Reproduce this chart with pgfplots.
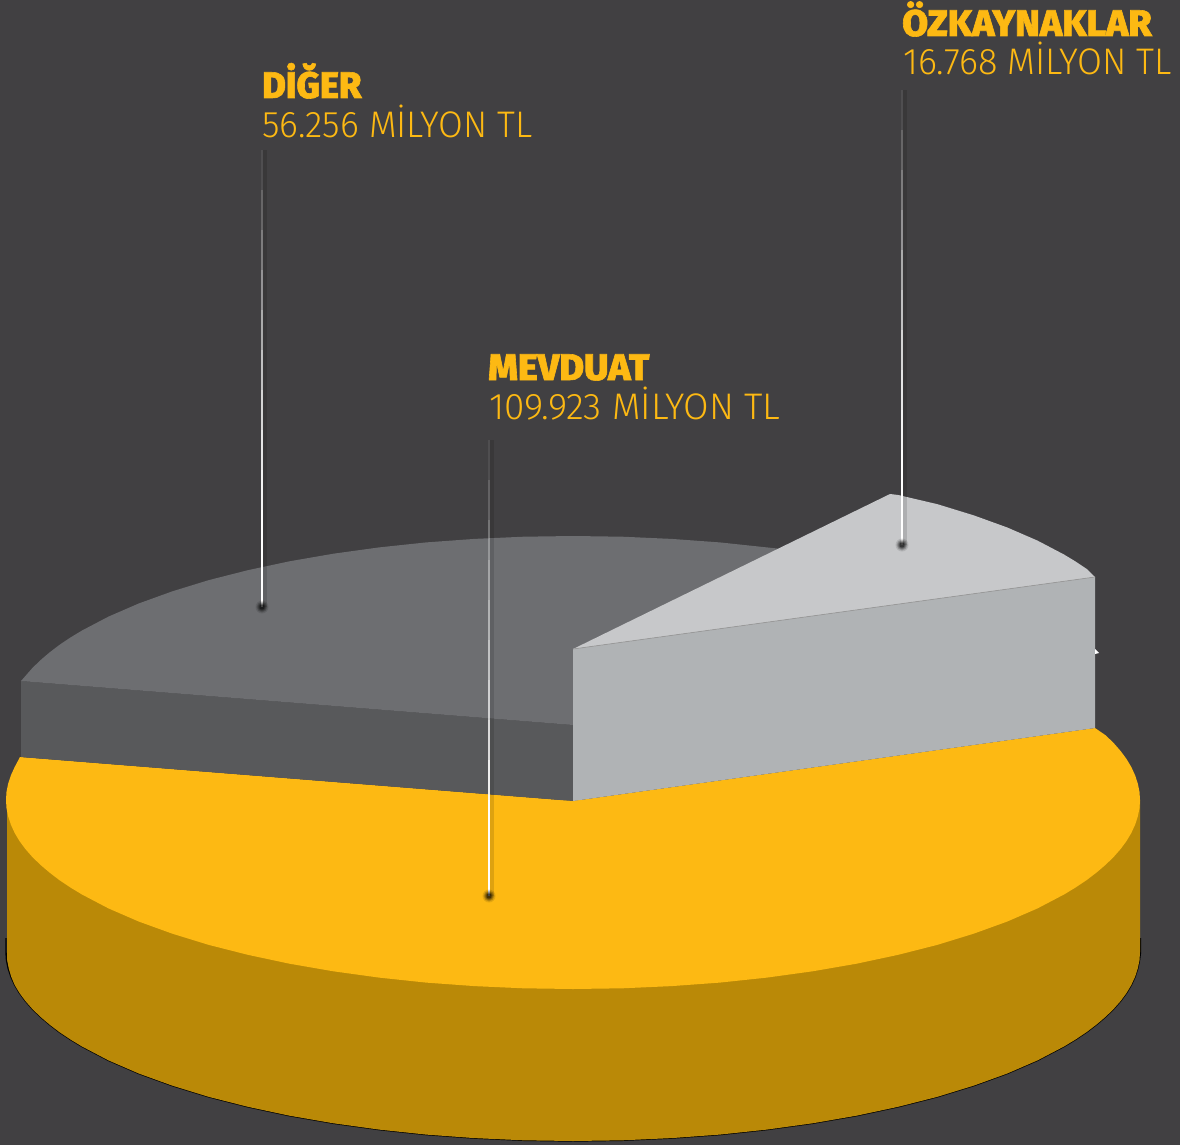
\documentclass[border=0pt]{standalone}
\usepackage{pgfplots}
\pgfplotsset{compat=1.18}
\usepackage{fontspec}
\setmainfont{Fira Sans}
\newfontfamily\hv[FakeBold=1.6]{Fira Sans ExtraBold}
\newfontfamily\lt{Fira Sans Light}
\definecolor{bg}{HTML}{414042}
\definecolor{yel}{HTML}{FDB913}
\definecolor{dyel}{HTML}{BA8907}
\definecolor{gtop}{HTML}{6D6E71}
\definecolor{gside}{HTML}{58595B}
\definecolor{ltop}{HTML}{C7C8CA}
\definecolor{lside}{HTML}{B0B3B5}
\newcommand{\seg}[4]{%
  \addplot[draw=black,line width=3.5pt,opacity=0.12] coordinates {(#1+2.8,#2)(#1+2.8,#3)};
  \addplot[draw=white,line width=1.6pt,opacity=#4] coordinates {(#1,#2)(#1,#3)};
}
\newcommand{\dotm}[2]{%
  \addplot[only marks,mark=*,mark size=6.5pt,mark options={draw=none,draw opacity=0,fill=black,fill opacity=0.10}] coordinates {(#1,#2)};
  \addplot[only marks,mark=*,mark size=5.5pt,mark options={draw=none,draw opacity=0,fill=black,fill opacity=0.15}] coordinates {(#1,#2)};
  \addplot[only marks,mark=*,mark size=4.5pt,mark options={draw=none,draw opacity=0,fill=black,fill opacity=0.2}] coordinates {(#1,#2)};
  \addplot[only marks,mark=*,mark size=3.5pt,mark options={draw=none,draw opacity=0,fill=black,fill opacity=0.25}] coordinates {(#1,#2)};
  \addplot[only marks,mark=*,mark size=2.5pt,mark options={draw=none,draw opacity=0,fill=black,fill opacity=0.4}] coordinates {(#1,#2)};
}
\newcommand{\hd}[4]{\node[anchor=base west,inner sep=0pt,text=yel] at (axis cs:#1,#2) {\scalebox{#4}[1]{\hv\fontsize{37}{37}\selectfont #3}};}
\newcommand{\nm}[4]{\node[anchor=base west,inner sep=0pt,text=yel] at (axis cs:#1,#2) {\scalebox{#4}[1]{\lt\fontsize{37}{37}\selectfont #3}};}
\begin{document}
\begin{tikzpicture}
\begin{axis}[hide axis,scale only axis,width=1180pt,height=1145pt,xmin=0,xmax=1180,ymin=0,ymax=1145,y dir=reverse]
\addplot[draw=none,fill=bg] coordinates {(0,0)(1180,0)(1180,1145)(0,1145)} -- cycle;
% black rim
\addplot[draw=black,line width=1.4pt] coordinates {(6,938)(6,952)(6.5,960.2)(8.2,968.5)(10.9,976.7)(14.6,984.8)(19.4,992.9)(25.3,1000.9)(32.2,1008.8)(40.2,1016.6)(49.2,1024.3)(59.1,1031.9)(70.1,1039.3)(82,1046.5)(108.5,1060.4)(138.7,1073.5)(172.1,1085.6)(208.5,1096.8)(247.8,1106.8)(289.5,1115.7)(333.4,1123.3)(379.1,1129.6)(426.2,1134.6)(474.5,1138.1)(523.6,1140.3)(573,1141)(622.4,1140.3)(671.5,1138.1)(719.8,1134.6)(766.9,1129.6)(812.6,1123.3)(856.5,1115.7)(898.2,1106.8)(937.5,1096.8)(973.9,1085.6)(1007.3,1073.5)(1037.5,1060.4)(1064,1046.5)(1075.9,1039.3)(1086.9,1031.9)(1096.8,1024.3)(1105.8,1016.6)(1113.8,1008.8)(1120.7,1000.9)(1126.6,992.9)(1131.4,984.8)(1135.1,976.7)(1137.8,968.5)(1139.5,960.2)(1140.5,952)(1140.5,938)};
% yellow side
\addplot[draw=none,fill=dyel] coordinates {(7,800)(7,952)(7.2,960.2)(8.8,968.5)(11.2,976.7)(14.6,984.8)(19.4,992.9)(25.3,1000.9)(32.2,1008.8)(40.2,1016.6)(49.2,1024.3)(59.1,1031.9)(70.1,1039.3)(82,1046.5)(108.5,1060.4)(138.7,1073.5)(172.1,1085.6)(208.5,1096.8)(247.8,1106.8)(289.5,1115.7)(333.4,1123.3)(379.1,1129.6)(426.2,1134.6)(474.5,1138.1)(523.6,1140.3)(573,1141)(622.4,1140.3)(671.5,1138.1)(719.8,1134.6)(766.9,1129.6)(812.6,1123.3)(856.5,1115.7)(898.2,1106.8)(937.5,1096.8)(973.9,1085.6)(1007.3,1073.5)(1037.5,1060.4)(1064,1046.5)(1075.9,1039.3)(1086.9,1031.9)(1096.8,1024.3)(1105.8,1016.6)(1113.8,1008.8)(1120.7,1000.9)(1126.6,992.9)(1131.4,984.8)(1135.1,976.7)(1137.8,968.5)(1139.5,960.2)(1140,952)(1140,800)} -- cycle;
% yellow top
\addplot[draw=none,fill=yel] coordinates {(573,801)(1095,728)(1105.8,735.4)(1113.8,743.2)(1120.7,751.1)(1126.6,759.1)(1131.4,767.2)(1135.1,775.3)(1137.8,783.5)(1139.5,791.8)(1140,800)(1139.5,808.2)(1137.8,816.5)(1135.1,824.7)(1131.4,832.8)(1126.6,840.9)(1120.7,848.9)(1113.8,856.8)(1105.8,864.6)(1096.8,872.3)(1086.9,879.9)(1075.9,887.3)(1064,894.5)(1037.5,908.4)(1007.3,921.5)(973.9,933.6)(937.5,944.8)(898.2,954.8)(856.5,963.7)(812.6,971.3)(766.9,977.6)(719.8,982.6)(671.5,986.1)(622.4,988.3)(573,989)(523.6,988.3)(474.5,986.1)(426.2,982.6)(379.1,977.6)(333.4,971.3)(289.5,963.7)(247.8,954.8)(208.5,944.8)(172.1,933.6)(138.7,921.5)(108.5,908.4)(82,894.5)(70.1,887.3)(59.1,879.9)(49.2,872.3)(40.2,864.6)(32.2,856.8)(25.3,848.9)(19.4,840.9)(14.6,832.8)(10.9,824.7)(8.2,816.5)(6.5,808.2)(6,800)(6.5,791.8)(8.2,783.5)(10.9,775.3)(14.6,767.2)(20,757)} -- cycle;
% grey side
\addplot[draw=none,fill=gside] coordinates {(21,681)(21,757)(573,801)(573,725)} -- cycle;
% grey top
\addplot[draw=none,fill=gtop] coordinates {(21,681)(25.3,676.1)(32.2,668.2)(40.2,660.4)(49.2,652.7)(59.1,645.1)(70.1,637.7)(82,630.5)(108.5,616.6)(138.7,603.5)(172.1,591.4)(208.5,580.2)(247.8,570.2)(289.5,561.3)(333.4,553.7)(379.1,547.4)(426.2,542.4)(474.5,538.9)(523.6,536.7)(573,536)(622.4,536.7)(671.5,538.9)(719.8,542.4)(766.9,547.4)(782,549)(573,649)(573,725)} -- cycle;
% light side
\addplot[draw=none,fill=lside] coordinates {(573,649)(1095,577)(1095,728)(573,801)} -- cycle;
\addplot[draw=none,fill=white] coordinates {(1095,649)(1099,653)(1095,654)} -- cycle;
% light top
\addplot[draw=none,fill=ltop] coordinates {(573,649)(890,494)(898.2,495)(937.5,504.2)(973.9,515.4)(1007.3,527.5)(1037.5,540.6)(1064,554.5)(1075.9,561.7)(1086.9,569.1)(1095,577)} -- cycle;
\addplot[draw=gray!80,line width=0.7pt] coordinates {(573,649)(1095,577)};
% leader DIGER
\dotm{262}{607}
\seg{262}{150}{190}{0.08}\seg{262}{190}{230}{0.2}\seg{262}{230}{270}{0.32}\seg{262}{270}{310}{0.44}\seg{262}{310}{350}{0.56}\seg{262}{350}{390}{0.68}\seg{262}{390}{430}{0.78}\seg{262}{430}{470}{0.87}\seg{262}{470}{510}{0.94}\seg{262}{510}{607}{1}
% leader OZKAYNAKLAR
\dotm{902}{545}
\seg{902}{90}{130}{0.08}\seg{902}{130}{170}{0.2}\seg{902}{170}{210}{0.32}\seg{902}{210}{250}{0.44}\seg{902}{250}{290}{0.56}\seg{902}{290}{330}{0.68}\seg{902}{330}{370}{0.78}\seg{902}{370}{410}{0.87}\seg{902}{410}{450}{0.94}\seg{902}{450}{545}{1}
% leader MEVDUAT
\dotm{489}{896}
\seg{489}{440}{480}{0.08}\seg{489}{480}{520}{0.18}\seg{489}{520}{560}{0.28}\seg{489}{560}{600}{0.38}\seg{489}{600}{640}{0.48}\seg{489}{640}{680}{0.58}\seg{489}{680}{720}{0.68}\seg{489}{720}{760}{0.78}\seg{489}{760}{800}{0.9}\seg{489}{800}{896}{1}
% labels
\hd{262}{98}{DİĞER}{0.98}
\nm{262}{138}{56.256 MİLYON TL}{0.97}
\hd{902}{36}{ÖZKAYNAKLAR}{1.016}
\nm{903}{75}{16.768 MİLYON TL}{0.977}
\hd{488}{380}{MEVDUAT}{1.02}
\nm{489}{419}{109.923 MİLYON TL}{1.0}
\end{axis}
\end{tikzpicture}
\end{document}
